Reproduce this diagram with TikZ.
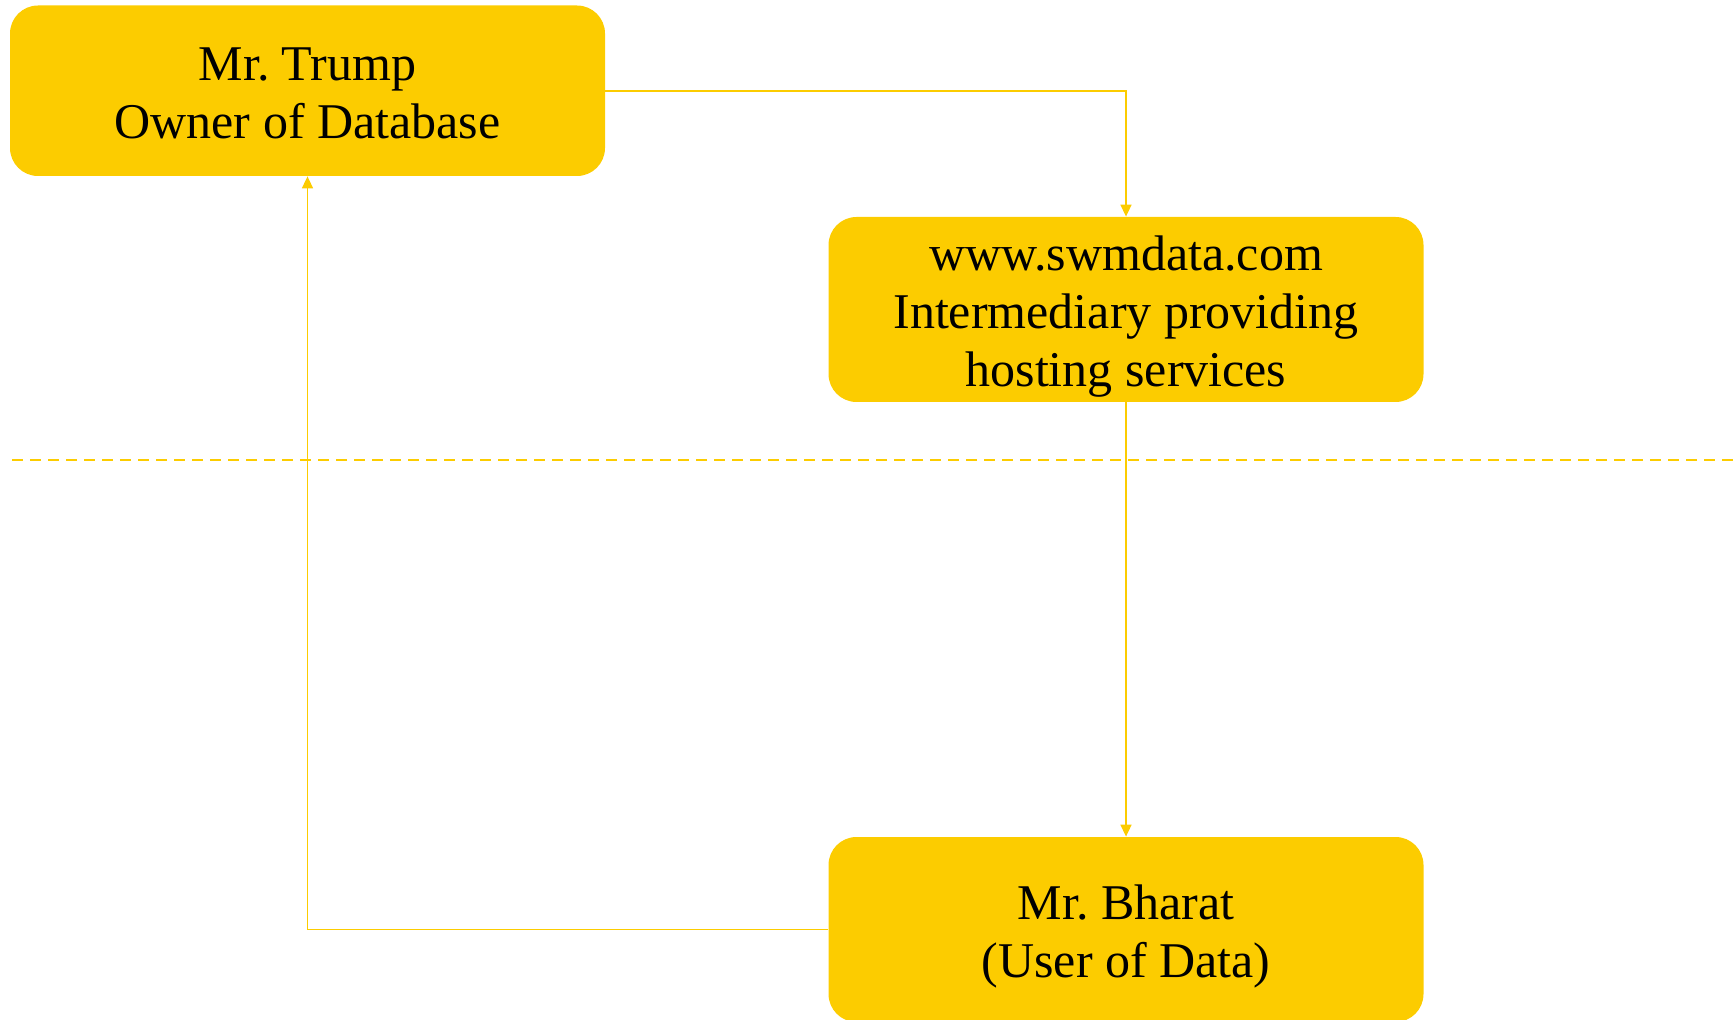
\documentclass[tikz,border=0pt]{standalone}
\usepackage{fontspec}
\setmainfont{Liberation Serif}
\usetikzlibrary{arrows.meta}
\definecolor{gold}{HTML}{FCCC00}
\tikzset{
  party/.style={fill=gold, rounded corners=14pt, minimum width=297.5pt},
  caption/.style={align=center, text=black, inner sep=0pt,
    font=\fontsize{25}{29}\selectfont},
  link/.style={draw=gold, line width=0.8pt,
    -{Triangle[width=5.5pt,length=6pt]}},
}
\begin{document}
\begin{tikzpicture}[x=0.5pt,y=-0.5pt]
  \useasboundingbox (0,0) rectangle (1733,1020);
  % the three parties
  \node[party, minimum height=85.25pt,
    label={[caption, yshift=-1.5pt]center:Mr.\ Trump\\Owner of Database}]
    (owner) at (307.5,90.75) {};
  \node[party, minimum height=92.5pt,
    label={[caption, yshift=-3.5pt]center:www.swmdata.com\\Intermediary providing\\hosting services}]
    (host) at (1126,309.5) {};
  \node[party, minimum height=92.5pt,
    label={[caption, yshift=-3.5pt]center:Mr.\ Bharat\\(User of Data)}]
    (user) at (1126,929.5) {};
  % boundary line
  \coordinate (bl) at (12,460);
  \coordinate (br) at (1733,460);
  \draw[gold, line width=0.8pt, dash pattern=on 5.5pt off 3.5pt] (bl) -- (br);
  % flows between the parties
  \draw[link] (owner.east) -| (host.north);
  \draw[link] (host.south) -- (user.north);
  \draw[link] (user.west) -| (owner.south);
\end{tikzpicture}
\end{document}
